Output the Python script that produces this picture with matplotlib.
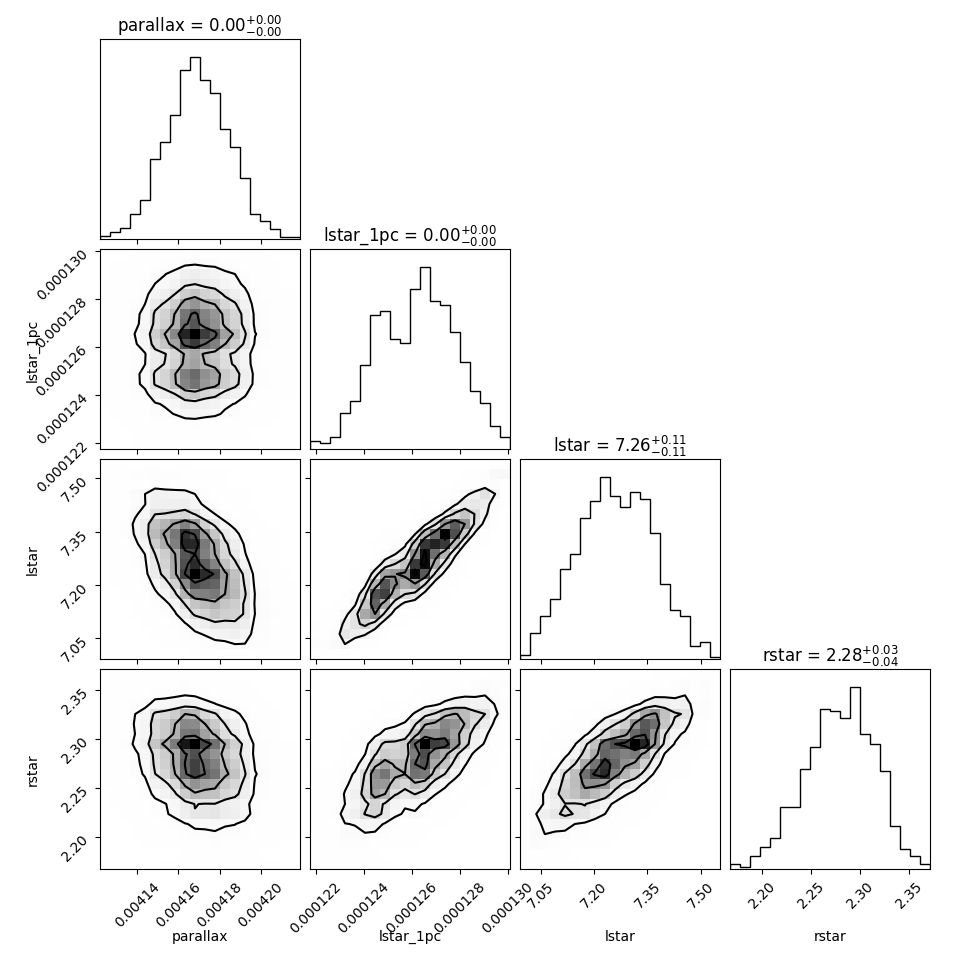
import numpy as np
import matplotlib
matplotlib.use("Agg")
import matplotlib.pyplot as plt
from matplotlib.colors import LinearSegmentedColormap
from math import erf

# parameter names, titles, axis ranges and ticks
labels = ["parallax", "lstar_1pc", "lstar", "rstar"]
titles = [r"parallax = $0.00^{+0.00}_{-0.00}$",
          r"lstar_1pc = $0.00^{+0.00}_{-0.00}$",
          r"lstar = $7.26^{+0.11}_{-0.11}$",
          r"rstar = $2.28^{+0.03}_{-0.04}$"]
ranges = [(0.004122, 0.004219), (0.00012175, 0.0001301), (6.992, 7.554), (2.168, 2.371)]
ticks = [[0.00414, 0.00416, 0.00418, 0.00420],
         [0.000122, 0.000124, 0.000126, 0.000128, 0.000130],
         [7.05, 7.20, 7.35, 7.50],
         [2.20, 2.25, 2.30, 2.35]]

# 20-bin histogram counts (estimated from the step heights)
counts_parallax = [3, 7, 11, 25, 39, 80, 97, 124, 169, 182, 159, 146, 110, 92, 61, 25, 18, 10, 2, 2]
counts_lstar_1pc = [8, 6, 12, 36, 48, 84, 134, 138, 110, 106, 160, 182, 148, 144, 117, 87, 58, 46, 23, 12]
counts_lstar = [4, 26, 43, 60, 90, 105, 141, 158, 182, 163, 152, 167, 160, 126, 75, 49, 43, 13, 17, 2]
counts_rstar = [5, 2, 13, 22, 31, 62, 62, 100, 122, 160, 158, 151, 182, 135, 125, 98, 43, 20, 13, 5]
counts = [counts_parallax, counts_lstar_1pc, counts_lstar, counts_rstar]

# correlation seen in each 2D panel, keyed by (row, column)
corr = {(1, 0): 0.02, (2, 0): -0.5, (2, 1): 0.9,
        (3, 0): -0.25, (3, 1): 0.7, (3, 2): 0.75}

# corner's default contour levels (0.5, 1, 1.5, 2 sigma)
sig = [0.5, 1.0, 1.5, 2.0]
levels = [1 - np.exp(-0.5 * s ** 2) for s in sig]

zgrid = np.linspace(-6, 6, 2001)
cdf_grid = 0.5 * (1 + np.array([erf(z / np.sqrt(2)) for z in zgrid]))


def normal_scores(c):
    """normal score of each bin centre of a histogram"""
    p = np.asarray(c, float)
    u = (np.cumsum(p) - 0.5 * p) / p.sum()
    return np.interp(u, cdf_grid, zgrid)


def joint_hist(cx, cy, rho):
    """2D bin weights built from the two marginals and the panel correlation"""
    a = normal_scores(cx)[:, None]
    b = normal_scores(cy)[None, :]
    cop = np.exp(-(rho ** 2 * (a ** 2 + b ** 2) - 2 * rho * a * b)
                 / (2 * (1 - rho ** 2))) / np.sqrt(1 - rho ** 2)
    return np.outer(cx, cy) * cop


def draw_2d(ax, H, X, Y):
    # contour values enclosing the chosen probability mass
    Hflat = H.flatten()
    Hflat = Hflat[np.argsort(Hflat)[::-1]]
    sm = np.cumsum(Hflat)
    sm /= sm[-1]
    V = np.empty(len(levels))
    for i, v0 in enumerate(levels):
        sel = Hflat[sm <= v0]
        V[i] = sel[-1] if len(sel) else Hflat[0]
    V.sort()

    X1 = 0.5 * (X[1:] + X[:-1])
    Y1 = 0.5 * (Y[1:] + Y[:-1])
    H2 = H.min() + np.zeros((H.shape[0] + 4, H.shape[1] + 4))
    H2[2:-2, 2:-2] = H
    H2[2:-2, 1] = H[:, 0]
    H2[2:-2, -2] = H[:, -1]
    H2[1, 2:-2] = H[0]
    H2[-2, 2:-2] = H[-1]
    H2[1, 1] = H[0, 0]
    H2[1, -2] = H[0, -1]
    H2[-2, 1] = H[-1, 0]
    H2[-2, -2] = H[-1, -1]
    dx = X1[1] - X1[0]
    dy = Y1[1] - Y1[0]
    X2 = np.concatenate([X1[0] + np.array([-2, -1]) * dx, X1, X1[-1] + np.array([1, 2]) * dx])
    Y2 = np.concatenate([Y1[0] + np.array([-2, -1]) * dy, Y1, Y1[-1] + np.array([1, 2]) * dy])

    density_cmap = LinearSegmentedColormap.from_list("density_cmap", ["k", (1, 1, 1, 0)])
    ax.pcolormesh(X, Y, H.max() - H.T, cmap=density_cmap)
    ax.contour(X2, Y2, H2.T, V, colors="k", linewidths=1.5)


K = len(labels)
fig, axes = plt.subplots(K, K, figsize=(9.7, 9.7), dpi=100)
lb = 1.0 / 9.7
tr = 9.3 / 9.7
fig.subplots_adjust(left=lb, bottom=lb, right=tr, top=tr, wspace=0.05, hspace=0.05)

edges = [np.linspace(r[0], r[1], 21) for r in ranges]

for i in range(K):
    for j in range(K):
        ax = axes[i, j]
        if j > i:
            ax.set_frame_on(False)
            ax.set_xticks([])
            ax.set_yticks([])
            continue

        if i == j:
            ax.stairs(counts[i], edges[i], color="k", linewidth=1.0)
            ax.set_ylim(0, 1.1 * max(counts[i]))
            ax.set_yticks([])
            ax.set_title(titles[i], fontsize=12)
        else:
            H = joint_hist(counts[j], counts[i], corr[(i, j)])
            draw_2d(ax, H, edges[j], edges[i])
            ax.set_ylim(ranges[i])
            ax.set_yticks(ticks[i])
            if j == 0:
                ax.tick_params(axis="y", labelrotation=45)
                ax.set_ylabel(labels[i])
                ax.yaxis.set_label_coords(-0.3, 0.5)
            else:
                ax.set_yticklabels([])

        ax.set_xlim(ranges[j])
        ax.set_xticks(ticks[j])
        if i == K - 1:
            ax.tick_params(axis="x", labelrotation=45)
            ax.set_xlabel(labels[j])
            ax.xaxis.set_label_coords(0.5, -0.3)
        else:
            ax.set_xticklabels([])

fig.savefig("out.png", dpi=100)
